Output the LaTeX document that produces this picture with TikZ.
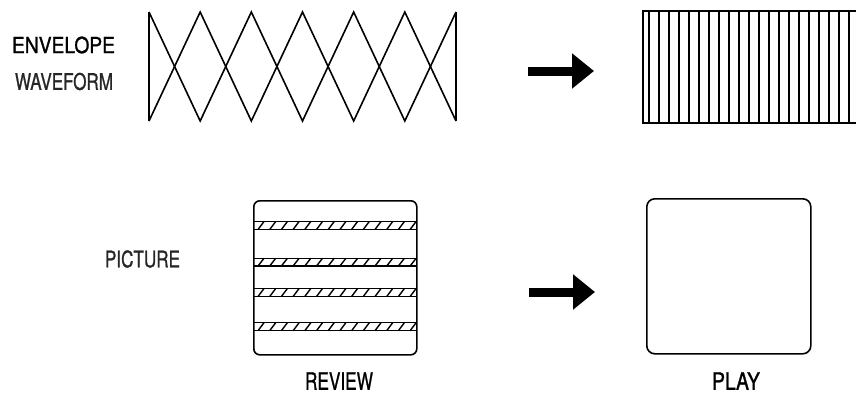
\documentclass[tikz,border=0pt]{standalone}
\usepackage{fontspec}
\setmainfont[FakeBold=1.2]{TeX Gyre Heros}
\usetikzlibrary{arrows.meta}
\begin{document}
\begin{tikzpicture}[x=1pt,y=-1pt,
  ln/.style={line width=1.6pt, line join=miter},
  thinln/.style={line width=1.4pt},
  lbl/.style={inner sep=0pt, anchor=center},
  bigarrow/.style={line width=9pt, -{Triangle[length=22pt,width=34pt]}},
  rbox/.style={draw, line width=1.6pt, rounded corners=#1, inner sep=0pt, anchor=north west}]
\useasboundingbox (0,0) rectangle (856,394);
\clip (0,0) rectangle (856,394);

% labels
\node[lbl] (envl) at (63.5,45) {\resizebox{103pt}{16.5pt}{ENVELOPE}};
\node[lbl, text=black!85] (wavl) at (64,81.5) {\resizebox{98pt}{17pt}{WAVEFORM}};
\node[lbl, text=black!85] (picl) at (142.5,259) {\resizebox{75pt}{17pt}{PICTURE}};
\node[lbl] (revl) at (339,381) {\resizebox{68pt}{17.5pt}{REVIEW}};
\node[lbl] (playl) at (736,381) {\resizebox{48pt}{17.5pt}{PLAY}};

% envelope waveform
\foreach \k in {0,...,6}{
  \coordinate (t\k) at ({149+51.1667*\k},12);
  \coordinate (b\k) at ({149+51.1667*\k},121);
}
\draw[ln] (t0) -- (b0);
\draw[ln] (t6) -- (b6);
\draw[ln] (t0) -- (b1) -- (t2) -- (b3) -- (t4) -- (b5) -- (t6);
\draw[ln] (b0) -- (t1) -- (b2) -- (t3) -- (b4) -- (t5) -- (b6);

% barred picture (right, clipped)
\node[draw, line width=1.6pt, inner sep=0pt, anchor=north west, minimum width=230pt, minimum height=112pt] (bars) at (642,10) {};
\foreach \k in {0,...,20}{
  \draw[thinln] ({649+10*\k},10) -- ({649+10*\k},122);
}

% arrows
\coordinate (a1s) at (528,71);
\coordinate (a1e) at (594,71);
\draw[bigarrow] (a1s) -- (a1e);
\coordinate (a2s) at (529,292);
\coordinate (a2e) at (595,292);
\draw[bigarrow] (a2s) -- (a2e);

% review box
\node[rbox=6pt, minimum width=163pt, minimum height=154pt] (review) at (253,200) {};
\begin{scope}
  \clip (253,200) rectangle (416,354);
  \foreach \ya/\yb in {221.5/229.5, 258.3/266.0, 288.5/296.5, 322.7/330.7}{
    \draw[thinln] (253,\ya) -- (416,\ya);
    \draw[thinln] (253,\yb) -- (416,\yb);
    \foreach \i in {0,...,13}{
      \draw[line width=1.4pt] ({258+11.7*\i},\yb) -- ({264+11.7*\i},\ya);
    }
  }
\end{scope}

% play box
\node[rbox=8pt, minimum width=164pt, minimum height=155pt] (play) at (646,198) {};
\end{tikzpicture}
\end{document}
